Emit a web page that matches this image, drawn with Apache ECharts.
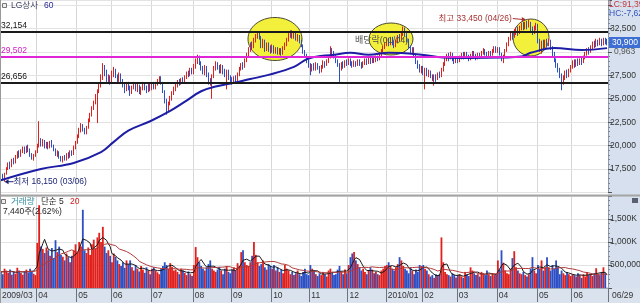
<!DOCTYPE html>
<html><head><meta charset="utf-8">
<script src="https://cdn.jsdelivr.net/npm/echarts@6/dist/echarts.min.js"></script>
<style>html,body{margin:0;padding:0;background:#fff;overflow:hidden}#c{width:640px;height:303px}</style>
</head><body><div id="c"></div>
<script>
// ---------- DATA ----------
const monthKeys = ['2009/03','2009/04','2009/05','2009/06','2009/07','2009/08','2009/09','2009/10','2009/11','2009/12','2010/01','2010/02','2010/03','2010/04','2010/05','2010/06'];
const monthDays = [
 '4 5 6 9 10 11 12 13 16 17 18 19 20 23 24 25 26 27 30 31',
 '1 2 3 6 7 8 9 10 13 14 15 16 17 20 21 22 23 24 27 28 29 30',
 '4 6 7 8 11 12 13 14 15 18 19 20 21 22 25 26 27 28 29',
 '1 2 3 4 5 8 9 10 11 12 15 16 17 18 19 22 23 24 25 26 29 30',
 '1 2 3 6 7 8 9 10 13 14 15 16 17 20 21 22 23 24 27 28 29 30 31',
 '3 4 5 6 7 10 11 12 13 14 17 18 19 20 21 24 25 26 27 28 31',
 '1 2 3 4 7 8 9 10 11 14 15 16 17 18 21 22 23 24 25 28 29 30',
 '1 5 6 7 8 9 12 13 14 15 16 19 20 21 22 23 26 27 28 29 30',
 '2 3 4 5 6 9 10 11 12 13 16 17 18 19 20 23 24 25 26 27 30',
 '1 2 3 4 7 8 9 10 11 14 15 16 17 18 21 22 23 24 28 29 30',
 '4 5 6 7 8 11 12 13 14 15 18 19 20 21 22 25 26 27 28 29',
 '1 2 3 4 5 8 9 10 11 12 16 17 18 19 22 23 24 25 26',
 '2 3 4 5 8 9 10 11 12 15 16 17 18 19 22 23 24 25 26 29 30 31',
 '1 2 5 6 7 8 9 12 13 14 15 16 19 20 21 22 23 26 27 28 29 30',
 '3 4 6 7 10 11 12 13 14 17 18 19 20 24 25 26 27 28 31',
 '1 3 4 7 8 9 10 11 14 15 16 17 18 21 22 23 24 25 28 29'
];
const tickLabels = ['2009/03','04','05','06','07','08','09','10','11','12','2010/01','02','03','04','05','06'];

// daily [open, close, low, high] in hundreds of won
const candleMonths = [
 [[172,168,166,175],[168,165,163,170],[165,170,161.5,171],[170,176,169,177],[176,180,174,182],[180,178,175,183],[178,184,177,186],[184,182,180,187],[182,188,181,190],[188,192,186,194],[192,189,187,195],[189,194,188,196],[194,197,192,199],[197,193,191,199],[193,198,192,200],[198,195,193,201],[195,190,188,197],[190,186,185,192],[186,189,184,191],[189,193,188,195]],
 [[193,200,192,202],[200,205,198,226],[205,201,199,208],[201,204,199,207],[204,199,197,206],[199,202,197,204],[202,198,196,204],[198,203,197,205],[203,200,198,206],[200,196,194,201],[196,190,189,197],[190,193,188,195],[193,187,186,194],[187,184,183,189],[184,188,182,189],[188,185,184,190],[185,190,184,192],[190,188,186,193],[188,193,187,195],[193,191,189,195],[191,198,190,200],[198,203,196,205]],
 [[203,210,202,212],[210,216,208,219],[216,221,214,224],[221,217,215,223],[217,213,212,219],[213,219,212,221],[219,227,218,229],[227,233,225,235],[233,240,231,242],[240,246,238,248],[246,252,244,255],[252,258,224,260],[258,264,256,266],[264,272,262,276],[272,282,270,288],[282,278,274,286],[278,270,268,281],[270,273,266,276],[273,268,265,275]],
 [[268,276,266,280],[276,280,273,284],[280,274,272,282],[274,270,267,276],[270,275,268,278],[275,269,266,277],[269,264,262,271],[264,260,256,266],[260,266,258,268],[266,262,259,268],[262,257,253,264],[257,262,255,264],[262,265,260,268],[265,260,258,267],[260,263,257,266],[263,258,255,265],[258,261,254,263],[261,265,259,268],[265,262,259,267],[262,259,256,264],[259,264,257,266],[264,261,258,266]],
 [[261,265,259,267],[265,262,260,268],[262,266,260,268],[266,269,264,271],[269,272,267,274],[272,267,265,274],[267,258,256,268],[258,248,245,259],[248,238,233,250],[238,245,236,247],[245,250,243,253],[250,256,248,258],[256,260,254,263],[260,264,258,266],[264,268,262,270],[268,266,264,271],[266,270,265,272],[270,268,266,273],[268,273,267,275],[273,277,271,279],[277,275,273,280],[275,280,274,283],[280,278,276,283]],
 [[278,284,276,287],[284,290,282,293],[290,294,287,297],[294,288,286,296],[288,282,280,290],[282,278,276,285],[278,283,275,286],[283,276,273,285],[276,270,265,278],[270,266,264,272],[266,274,250,276],[274,282,272,285],[282,287,280,290],[287,283,281,289],[283,279,277,286],[279,284,277,287],[284,280,276,286],[280,275,273,282],[275,279,260,281],[279,273,270,281],[273,270,266,275]],
 [[270,268,265,273],[268,272,266,274],[272,270,267,275],[270,276,269,278],[276,282,274,284],[282,286,280,288],[286,284,281,289],[284,291,283,293],[291,297,289,299],[297,302,295,305],[302,308,300,310],[308,305,302,311],[305,312,304,315],[312,317,310,319],[317,320,314,322],[320,315,313,322],[315,306,304,317],[306,311,304,314],[311,303,300,313],[303,308,301,310],[308,304,300,310],[304,301,298,307]],
 [[301,305,299,308],[305,300,298,307],[300,303,298,305],[303,299,297,305],[299,302,297,304],[302,298,296,304],[298,303,297,306],[303,308,302,310],[308,313,306,315],[313,317,311,320],[317,320,315,323],[320,316,314,323],[316,319,314,321],[319,314,312,321],[314,317,311,319],[317,311,309,318],[311,307,305,313],[307,300,298,308],[300,296,294,302],[296,290,288,298],[290,286,283,292]],
 [[286,281,275,288],[281,285,279,287],[285,282,280,288],[282,286,280,289],[286,283,281,288],[283,279,277,285],[279,284,278,286],[284,288,282,291],[288,286,283,290],[286,290,285,292],[290,294,288,296],[294,302,293,306],[302,299,296,304],[299,295,293,301],[295,290,288,297],[290,286,284,292],[286,282,268,288],[282,287,280,289],[287,285,282,290],[285,289,283,291],[289,287,285,292]],
 [[287,291,286,293],[291,288,285,293],[288,285,283,290],[285,289,284,291],[289,286,284,290],[286,290,285,292],[290,287,285,292],[287,284,282,289],[284,288,283,290],[288,291,286,293],[291,288,286,293],[288,292,287,294],[292,289,287,294],[289,293,288,295],[293,290,288,295],[290,294,289,296],[294,292,290,296],[292,296,291,298],[296,301,295,303],[301,305,299,307],[305,308,303,310]],
 [[308,312,306,315],[312,309,306,315],[309,313,307,316],[313,310,307,316],[310,306,304,312],[306,311,305,313],[311,316,309,318],[316,313,311,319],[313,319,312,322],[319,324,317,327],[324,318,316,326],[318,312,310,320],[312,305,303,314],[305,300,298,307],[300,303,297,305],[303,296,294,305],[296,289,287,298],[289,284,282,291],[284,280,278,287],[280,283,277,285]],
 [[283,278,275,285],[278,281,260,283],[281,276,274,283],[276,279,273,281],[279,274,272,280],[274,271,269,276],[271,274,264,276],[274,272,268,276],[272,276,270,278],[276,274,272,279],[274,281,273,283],[281,287,279,289],[287,292,285,294],[292,296,290,298],[296,293,290,299],[293,297,292,300],[297,292,290,299],[292,289,287,294],[289,293,288,295]],
 [[293,290,288,295],[290,294,289,296],[294,297,292,299],[297,294,292,300],[294,298,293,300],[298,295,293,300],[295,292,290,297],[292,296,291,298],[296,299,294,301],[299,296,294,301],[296,293,291,298],[293,297,292,299],[297,295,293,299],[295,299,294,301],[299,302,297,304],[302,298,296,303],[298,295,293,300],[295,299,294,301],[299,297,295,301],[297,301,296,303],[301,304,299,306],[304,301,299,306]],
 [[301,303,299,305],[303,298,296,305],[298,292,290,299],[292,295,288,297],[295,301,294,303],[301,308,300,310],[308,314,306,316],[314,319,312,321],[319,316,313,322],[316,321,315,324],[321,324,318,326],[324,320,317,327],[320,325,319,328],[325,329,323,331],[329,326,323,332],[326,330,324,332],[330,327,324,333],[327,331,326,334.5],[331,325,322,332],[325,321,318,327],[321,326,319,328],[326,329,323,331]],
 [[329,312,309,330],[312,305,300,314],[305,310,298,312],[310,306,303,313],[306,311,304,313],[311,308,305,314],[308,312,306,314],[312,304,302,313],[304,298,295,306],[298,291,289,300],[291,286,283,293],[286,281,278,288],[281,275,272,283],[275,268,259,277],[268,273,265,275],[273,278,270,280],[278,275,272,281],[275,280,273,282],[280,284,278,286]],
 [[284,289,282,291],[289,286,283,292],[286,290,284,292],[290,287,285,293],[287,291,286,293],[291,289,286,294],[289,294,288,296],[294,298,292,300],[298,302,296,304],[302,300,297,305],[300,305,299,307],[305,309,303,311],[309,306,304,312],[306,311,305,314],[311,308,306,313],[308,312,307,315],[312,309,306,314],[309,313,307,315],[313,311,308,315],[311,309,307,314]]
];

// daily volume, thousands of shares
const volumeMonths = [
 [350,300,420,380,330,400,290,360,310,440,380,330,290,360,400,340,420,370,310,280],
 [980,1800,900,850,760,880,820,700,870,650,1040,780,900,720,680,600,750,670,560,700,820,950],
 [780,1000,900,1700,820,760,880,720,950,1050,860,1100,1200,1000,1330,900,760,820,700],
 [560,750,680,600,520,480,560,440,600,520,600,450,380,500,420,360,480,400,330,450,380,300],
 [420,450,380,340,300,420,480,560,500,420,540,460,380,400,350,300,420,380,330,280,360,300,260],
 [500,890,670,560,480,420,380,450,520,600,420,380,350,400,460,380,300,420,480,350,320],
 [400,450,380,540,480,780,820,560,500,480,560,700,1000,720,560,480,520,600,450,400,520,480],
 [420,500,380,450,350,400,320,500,420,380,300,350,280,320,380,300,260,350,420,300,280],
 [500,420,380,300,260,320,280,350,300,250,380,420,350,280,300,400,480,350,300,400,320],
 [500,670,750,780,600,520,450,380,420,350,300,380,450,400,320,350,300,280,380,420,480],
 [500,560,480,420,380,450,520,670,600,480,420,380,320,450,380,300,400,350,500,480],
 [500,420,380,300,250,280,220,300,260,300,1100,560,350,300,280,250,320,280,230],
 [280,300,250,220,350,300,260,450,380,320,280,300,250,350,320,280,380,300,260,320,280,300],
 [600,400,820,550,380,320,300,420,650,800,450,380,320,300,350,280,250,300,420,670,380,320],
 [500,420,600,380,450,670,450,380,500,420,600,450,300,380,320,280,350,300,260],
 [300,280,250,320,280,220,300,250,350,280,300,260,320,430,300,280,350,450,320,7.44]
];

// 60-day moving average: [day index, price]
const ma60Points = [[0,16300],[22,17500],[40,18150],[55,19300],[62,20400],[70,21600],[82,22600],[93,23700],[102,24800],[110,25800],[118,26300],[128,26700],[137,27100],[147,27550],[161,28400],[169,29300],[183,29700],[192,29900],[202,29700],[213,29900],[231,29700],[243,29400],[258,29350],[275,29400],[286,29500],[291,29900],[304,30400],[319,30200],[333,30400]];

const levelLines = [32154, 29502, 26656];

// ---------- BUILD ----------
const FONT = 'Liberation Sans, Noto Sans CJK KR, sans-serif';
const RED = '#e0201c', BLUE = '#2c50c4';
const fmt = v => Math.round(v).toLocaleString('en-US');
const dates = [];
const monthStart = {};
monthKeys.forEach((mk, m) => {
  monthStart[dates.length] = m;
  monthDays[m].split(' ').forEach(d => dates.push(mk + '/' + d.padStart(2, '0')));
});
const candles = candleMonths.flat().map(r => r.map(v => v * 100));
const volumes = volumeMonths.flat().map(v => Math.round(v * 1000));
function sma(arr, n) {
  return arr.map((_, i) => {
    const s = arr.slice(Math.max(0, i - n + 1), i + 1);
    return Math.round(s.reduce((a, b) => a + b, 0) / s.length);
  });
}
const vma5 = sma(volumes, 5), vma20 = sma(volumes, 20);
const isStart = i => monthStart[i] !== undefined;
const upColor = i => candles[i][1] >= candles[i][0] ? RED : BLUE;

const yAxisCommon = {
  type: 'value', position: 'right', z: 1,
  axisLine: { show: true, lineStyle: { color: '#8e9bb0' } },
  axisTick: { show: true, length: 4, lineStyle: { color: '#555' } },
  minorTick: { show: true, splitNumber: 5, length: 2, lineStyle: { color: '#888' } },
  splitLine: { show: true, lineStyle: { color: '#e3e3e3' } },
  minorSplitLine: { show: false }
};

const chart = echarts.init(document.getElementById('c'));
chart.setOption({
  animation: false,
  backgroundColor: '#ffffff',
  textStyle: { fontFamily: FONT },
  grid: [
    { left: 0, right: 32, top: 0, height: 192.5, outerBoundsMode: 'none' },
    { left: 0, right: 32, top: 196, height: 92, outerBoundsMode: 'none' }
  ],
  xAxis: [
    { type: 'category', gridIndex: 0, data: dates, axisLine: { show: false }, axisTick: { show: false },
      axisLabel: { show: false }, splitLine: { show: true, interval: isStart, lineStyle: { color: '#d8d8d8' } } },
    { type: 'category', gridIndex: 1, data: dates, z: 1,
      axisLine: { show: true, lineStyle: { color: '#9aa4b2' } },
      axisTick: { show: true, interval: isStart, length: 14, lineStyle: { color: '#6b7380' } },
      axisLabel: { interval: isStart, formatter: (v, i) => tickLabels[monthStart[i]], align: 'left',
        margin: 3, fontSize: 8.5, color: '#333', padding: [0, 0, 0, 1] },
      splitLine: { show: true, interval: isStart, lineStyle: { color: '#d8d8d8' } } }
  ],
  yAxis: [
    Object.assign({}, yAxisCommon, { gridIndex: 0, min: 15000, max: 35533, interval: 2500,
      axisLabel: { margin: 2, fontSize: 8.5, color: '#333',
        formatter: v => (v <= 15000 || v === 30000 || v >= 35000) ? '' : fmt(v) } }),
    Object.assign({}, yAxisCommon, { gridIndex: 1, min: 0, max: 2000000, interval: 500000,
      axisLabel: { margin: 2, fontSize: 8.5, color: '#333',
        formatter: v => (v === 0 || v >= 2000000) ? '' : (v >= 1000000 ? fmt(v / 1000) + 'K' : fmt(v)) } })
  ],
  series: [
    { type: 'candlestick', xAxisIndex: 0, yAxisIndex: 0, data: candles, z: 3, barWidth: 1.3,
      itemStyle: { color: RED, color0: BLUE, borderColor: RED, borderColor0: BLUE, borderWidth: 1 },
      markLine: { symbol: 'none', silent: true, animation: false,
        label: { position: 'insideStartTop', formatter: p => fmt(p.value), fontSize: 8.5, distance: [1, 2] },
        data: [
          { yAxis: levelLines[0], lineStyle: { color: '#1a1a1a', width: 2, type: 'solid' }, label: { color: '#111' } },
          { yAxis: levelLines[1], lineStyle: { color: '#e024d8', width: 2, type: 'solid' }, label: { color: '#d020c8' } },
          { yAxis: levelLines[2], lineStyle: { color: '#1a1a1a', width: 2, type: 'solid' }, label: { color: '#111' } }
        ] } },
    { type: 'line', xAxisIndex: 0, yAxisIndex: 0, data: ma60Points, smooth: 0.4, symbol: 'none', z: 4,
      lineStyle: { color: '#1d1da6', width: 2 } },
    { type: 'bar', xAxisIndex: 1, yAxisIndex: 1, data: volumes, barCategoryGap: '0%', z: 3,
      itemStyle: { color: p => upColor(p.dataIndex) } },
    { type: 'line', xAxisIndex: 1, yAxisIndex: 1, data: vma5, symbol: 'none', z: 4,
      lineStyle: { color: '#1a1a1a', width: 1 } },
    { type: 'line', xAxisIndex: 1, yAxisIndex: 1, data: vma20, symbol: 'none', z: 4,
      lineStyle: { color: '#b03a3a', width: 1 } }
  ]
});

// ---------- ANNOTATIONS ----------
let li = 0, hi = 0;
candles.forEach((c, i) => { if (c[2] < candles[li][2]) li = i; if (c[3] > candles[hi][3]) hi = i; });
const lp = chart.convertToPixel({ xAxisIndex: 0, yAxisIndex: 0 }, [li, candles[li][2]]);
const hp = chart.convertToPixel({ xAxisIndex: 0, yAxisIndex: 0 }, [hi, candles[hi][3]]);
const dLo = dates[li].slice(5), dHi = dates[hi].slice(5);

const T = (text, x, y, fill, extra) => ({ type: 'text', z: 20, silent: true,
  style: Object.assign({ text, x, y, fill, fontSize: 8.5, fontFamily: FONT, align: 'left', verticalAlign: 'middle' }, extra || {}) });
const R = (x, y, w, h, fill, z, stroke) => ({ type: 'rect', z, silent: true, shape: { x, y, width: w, height: h },
  style: { fill, stroke: stroke || null, lineWidth: 1 } });
const E = (cx, cy, rx, ry) => ({ type: 'ellipse', z: 1, silent: true, shape: { cx, cy, rx, ry },
  style: { fill: '#f3f03c', stroke: '#4a4a30', lineWidth: 1 } });

chart.setOption({
  graphic: { elements: [
    R(608, 0, 32, 289, '#d6e0ee', -10),
    R(0, 288, 640, 15, '#dae2ee', -10),
    R(0, 194.5, 640, 2, '#a4a4a4', 15),
    R(0, 0, 1, 303, '#9a9a9a', 15),
    E(275, 39, 27, 21.5),
    E(391, 39, 22, 16),
    E(531, 37.5, 18, 18.5),
    T('배당락(01/04)', 355, 41, '#505050', { fontSize: 9 }),
    R(2.5, 3.5, 4, 4, '#eeeeee', 20, '#777'),
    T('LG상사', 11, 6, '#3b3f62'),
    T('60', 44, 6, '#27279a'),
    R(1.5, 199.5, 4, 4, '#eeeeee', 20, '#777'),
    T('거래량', 11, 202, '#2f8c9c'),
    T('단순 5', 41, 202, '#222'),
    T('20', 70, 202, '#d02020'),
    T(fmt(volumes[volumes.length - 1]) + '주(2.62%)', 3, 212, '#222'),
    T('LC:91,39%', 609, 5, '#c03838'),
    T('HC:-7,62%', 609, 14, '#3453c0'),
    R(609, 37, 31, 11, '#3d6ed4', 20),
    T(fmt(candles[candles.length - 1][1]), 612, 42.5, '#ffffff'),
    T('0,963', 614, 52, '#555'),
    T(dates[dates.length - 1].slice(5), 612, 296, '#333'),
    R(632, 198, 6, 5, '#5a6070', 20),
    { type: 'polygon', z: 20, silent: true, shape: { points: [[lp[0], lp[1]], [lp[0] + 4, lp[1] - 2.5], [lp[0] + 4, lp[1] + 2.5]] }, style: { fill: '#1c2470' } },
    { type: 'line', z: 20, silent: true, shape: { x1: lp[0] + 3, y1: lp[1], x2: lp[0] + 9, y2: lp[1] }, style: { stroke: '#1c2470', lineWidth: 1 } },
    T('최저 ' + fmt(candles[li][2]) + ' (' + dLo + ')', lp[0] + 9, lp[1], '#1c2470'),
    { type: 'line', z: 20, silent: true, shape: { x1: hp[0] - 16, y1: hp[1] - 1, x2: hp[0] - 6, y2: hp[1] }, style: { stroke: '#a83232', lineWidth: 1 } },
    { type: 'polygon', z: 20, silent: true, shape: { points: [[hp[0] - 3, hp[1]], [hp[0] - 7, hp[1] - 2.5], [hp[0] - 7, hp[1] + 2.5]] }, style: { fill: '#a83232' } },
    T('최고 ' + fmt(candles[hi][3]) + ' (' + dHi + ')', hp[0] - 17, hp[1] - 1, '#a83232', { align: 'right' })
  ] }
});
</script>
</body></html>
